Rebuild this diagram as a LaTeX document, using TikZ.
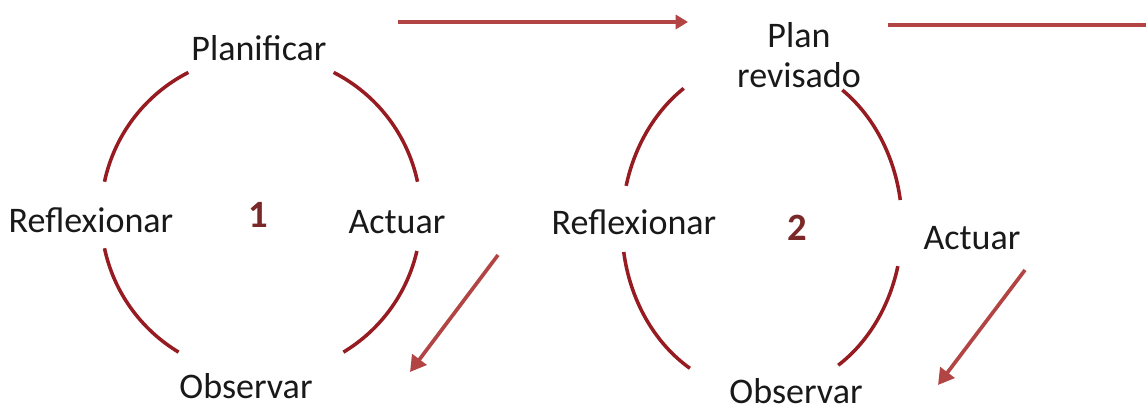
\documentclass[tikz,border=0pt]{standalone}
\usepackage{fontspec}
\setmainfont{Carlito}
\usepackage{tikz}
\usetikzlibrary{arrows.meta}
\definecolor{arcred}{RGB}{150,28,34}
\definecolor{arrowred}{RGB}{178,68,68}
\definecolor{numred}{RGB}{122,40,40}

\begin{document}
\begin{tikzpicture}[every node/.style={font=\fontsize{20.5}{25}\selectfont, text=black!90, inner sep=0pt, outer sep=0pt},
  cyc/.style={draw=arcred, line width=2pt},
  flow/.style={draw=arrowred, line width=2.1pt},
  num/.style={font=\fontsize{22}{25}\selectfont\bfseries, text=numred}]
\useasboundingbox (0,0) rectangle (22.92,8.28);

\coordinate (c1) at (5.22,3.98);
\coordinate (c2) at (15.24,3.76);

% ciclo 1
\node (plan1) at (5.18,7.32) {Planificar};
\node (refl1) at (1.82,3.88) {Reflexionar};
\node[num] (n1) at (5.16,3.98) {1};
\node (act1) at (7.94,3.84) {Actuar};
\node (obs1) at (4.92,0.56) {Observar};

\draw[cyc] ([shift={(12:3.2)}]c1) arc[start angle=12, end angle=63, radius=3.2];
\draw[cyc] ([shift={(117:3.2)}]c1) arc[start angle=117, end angle=168, radius=3.2];
\draw[cyc] ([shift={(192:3.2)}]c1) arc[start angle=192, end angle=239, radius=3.2];
\draw[cyc] ([shift={(301:3.2)}]c1) arc[start angle=301, end angle=347, radius=3.2];

% ciclo 2
\node[align=center, font=\fontsize{20.5}{22.5}\selectfont] (plan2) at (15.98,7.18) {Plan\\revisado};
\node (refl2) at (12.68,3.84) {Reflexionar};
\node[num] (n2) at (15.94,3.72) {2};
\node (act2) at (19.44,3.52) {Actuar};
\node (obs2) at (15.92,0.46) {Observar};

\draw[cyc] ([shift={(9:2.8 and 3.32)}]c2) arc[start angle=9, end angle=55, x radius=2.8, y radius=3.32];
\draw[cyc] ([shift={(124:2.8 and 3.32)}]c2) arc[start angle=124, end angle=166, x radius=2.8, y radius=3.32];
\draw[cyc] ([shift={(189:2.8 and 3.32)}]c2) arc[start angle=189, end angle=239, x radius=2.8, y radius=3.32];
\draw[cyc] ([shift={(303:2.8 and 3.32)}]c2) arc[start angle=303, end angle=346, x radius=2.8, y radius=3.32];

% flechas
\coordinate (t1a) at (7.96,7.84);
\coordinate (t1b) at (13.76,7.84);
\coordinate (t2a) at (17.76,7.78);
\coordinate (t2b) at (22.92,7.78);
\coordinate (d1a) at (9.96,3.18);
\coordinate (d1b) at (8.20,0.84);
\coordinate (d2a) at (20.50,2.88);
\coordinate (d2b) at (18.76,0.58);

\draw[flow, -{Triangle[length=7pt, width=8pt]}] (t1a) -- (t1b);
\draw[flow] (t2a) -- (t2b);
\draw[flow, -{Triangle[length=9pt, width=10pt]}] (d1a) -- (d1b);
\draw[flow, -{Triangle[length=9pt, width=10pt]}] (d2a) -- (d2b);
\end{tikzpicture}
\end{document}
